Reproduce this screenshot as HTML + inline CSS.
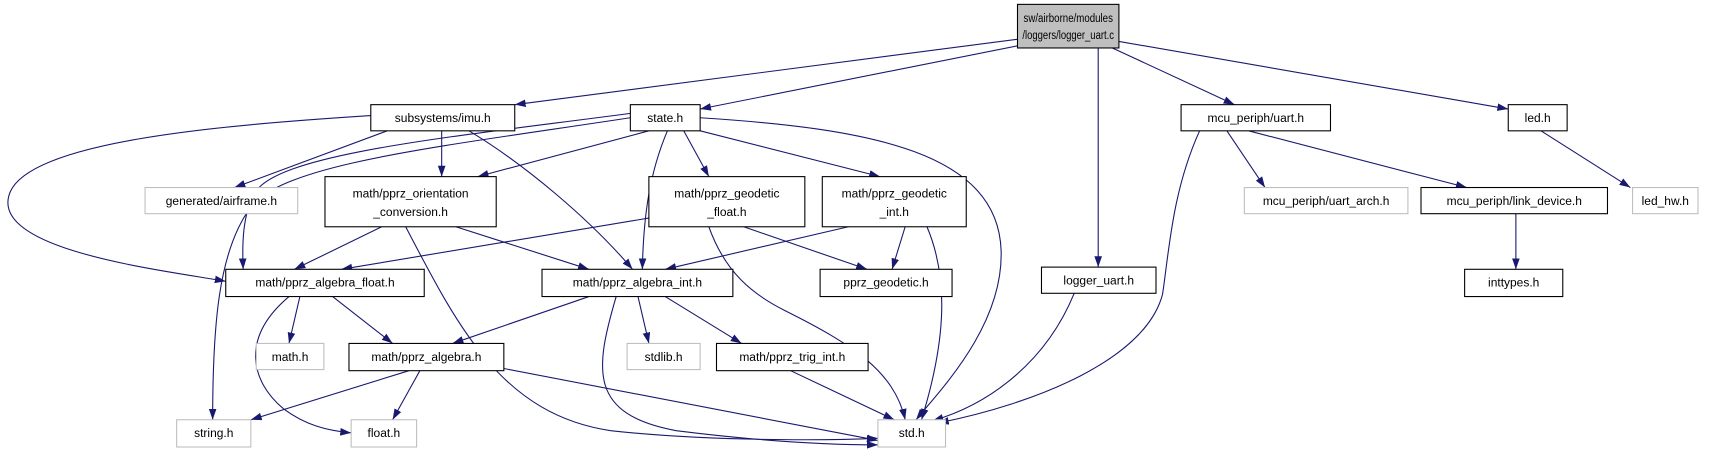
<!DOCTYPE html>
<html><head><meta charset="utf-8"><style>
html,body{margin:0;padding:0;background:#fff;}
svg{display:block}
text{font-family:"Liberation Sans",sans-serif;font-size:11px;fill:#000;text-anchor:middle}
.b{fill:#fff;stroke:#000;stroke-width:1}
.g{fill:#fff;stroke:#bfbfbf;stroke-width:1}
.e{fill:none;stroke:#191970;stroke-width:1}
</style></head><body>
<svg width="1710" height="459" viewBox="0 0 1568 421" preserveAspectRatio="none" xmlns="http://www.w3.org/2000/svg">
<defs><marker id="a" markerUnits="userSpaceOnUse" markerWidth="11" markerHeight="8" refX="10" refY="3.5" orient="auto"><path d="M0,0 L10,3.5 L0,7 z" fill="#191970"/></marker></defs>
<g marker-end="url(#a)">
<path class="e" d="M933,36 L472,96"/>
<path class="e" d="M933,42 L642,100"/>
<path class="e" d="M1007,44 L1007,245"/>
<path class="e" d="M1020,44 L1132,96"/>
<path class="e" d="M1026,38 L1383,100"/>
<path class="e" d="M340,106 C200,115 20,130 8,180 C-5,230 150,248 207,258"/>
<path class="e" d="M355,120 L215,172"/>
<path class="e" d="M405,120 L405,162"/>
<path class="e" d="M430,120 C480,150 540,200 580,247"/>
<path class="e" d="M578,104 C420,125 260,140 235,175 C222,195 222,225 223,247"/>
<path class="e" d="M578,108 C400,135 260,150 230,190 C200,230 195,300 195,385"/>
<path class="e" d="M595,120 L438,162"/>
<path class="e" d="M612,120 C595,160 590,200 589,247"/>
<path class="e" d="M627,120 L650,162"/>
<path class="e" d="M642,120 L807,162"/>
<path class="e" d="M642,108 C800,118 915,140 918,230 C920,300 860,360 840,385"/>
<path class="e" d="M350,208 L270,247"/>
<path class="e" d="M372,208 C420,300 460,380 560,395 C650,405 760,404 805,402"/>
<path class="e" d="M418,208 L540,247"/>
<path class="e" d="M595,200 L313,247"/>
<path class="e" d="M682,208 L795,247"/>
<path class="e" d="M650,208 C665,250 690,270 720,285 C780,315 820,340 830,385"/>
<path class="e" d="M778,208 L610,247"/>
<path class="e" d="M830,208 L818,247"/>
<path class="e" d="M850,208 C872,260 865,320 845,385"/>
<path class="e" d="M265,272 C220,310 230,350 260,375 C280,390 300,395 322,397"/>
<path class="e" d="M275,272 L265,315"/>
<path class="e" d="M305,272 L360,315"/>
<path class="e" d="M540,272 L415,315"/>
<path class="e" d="M565,272 C545,340 540,380 620,395 C700,405 760,408 805,408"/>
<path class="e" d="M585,272 L595,315"/>
<path class="e" d="M610,272 L680,315"/>
<path class="e" d="M375,340 L230,385"/>
<path class="e" d="M385,340 L360,385"/>
<path class="e" d="M462,338 L805,404"/>
<path class="e" d="M725,340 L820,385"/>
<path class="e" d="M985,269 C960,330 910,370 855,386"/>
<path class="e" d="M1100,120 C1075,175 1072,230 1066,270 C1050,330 950,370 860,388"/>
<path class="e" d="M1125,120 L1160,172"/>
<path class="e" d="M1145,120 L1345,172"/>
<path class="e" d="M1413,120 L1495,172"/>
<path class="e" d="M1390,196 L1390,247"/>
</g>
<rect x="933" y="4" width="93" height="40" fill="#bfbfbf" stroke="#000"/>
<text x="979.5" y="20" textLength="82" lengthAdjust="spacingAndGlyphs">sw/airborne/modules</text><text x="979.5" y="36" textLength="84" lengthAdjust="spacingAndGlyphs">/loggers/logger_uart.c</text>
<rect class="b" x="340" y="96" width="132" height="24"/><text x="406" y="112">subsystems/imu.h</text>
<rect class="b" x="578" y="96" width="64" height="24"/><text x="610" y="112">state.h</text>
<rect class="b" x="1083" y="96" width="137" height="24"/><text x="1151.5" y="112">mcu_periph/uart.h</text>
<rect class="b" x="1383" y="96" width="54" height="24"/><text x="1410" y="112">led.h</text>
<rect class="g" x="133" y="172" width="140" height="24"/><text x="203" y="188">generated/airframe.h</text>
<rect class="b" x="298" y="162" width="157" height="46"/><text x="376.5" y="181">math/pprz_orientation</text><text x="376.5" y="198">_conversion.h</text>
<rect class="b" x="595" y="162" width="143" height="46"/><text x="666.5" y="181">math/pprz_geodetic</text><text x="666.5" y="198">_float.h</text>
<rect class="b" x="754" y="162" width="132" height="46"/><text x="820" y="181">math/pprz_geodetic</text><text x="820" y="198">_int.h</text>
<rect class="b" x="955" y="245" width="105" height="24"/><text x="1007.5" y="261">logger_uart.h</text>
<rect class="g" x="1141" y="172" width="150" height="24"/><text x="1216" y="188">mcu_periph/uart_arch.h</text>
<rect class="b" x="1303" y="172" width="171" height="24"/><text x="1388.5" y="188">mcu_periph/link_device.h</text>
<rect class="g" x="1497" y="172" width="60" height="24"/><text x="1527" y="188">led_hw.h</text>
<rect class="b" x="207" y="247" width="182" height="25"/><text x="298" y="263">math/pprz_algebra_float.h</text>
<rect class="b" x="497" y="247" width="175" height="25"/><text x="584.5" y="263">math/pprz_algebra_int.h</text>
<rect class="b" x="752" y="247" width="121" height="25"/><text x="812.5" y="263">pprz_geodetic.h</text>
<rect class="b" x="1343" y="247" width="90" height="25"/><text x="1388" y="263">inttypes.h</text>
<rect class="g" x="235" y="315" width="62" height="24"/><text x="266" y="331">math.h</text>
<rect class="b" x="320" y="315" width="142" height="25"/><text x="391" y="331">math/pprz_algebra.h</text>
<rect class="g" x="575" y="315" width="67" height="24"/><text x="608.5" y="331">stdlib.h</text>
<rect class="b" x="657" y="315" width="139" height="25"/><text x="726.5" y="331">math/pprz_trig_int.h</text>
<rect class="g" x="162" y="385" width="68" height="25"/><text x="196" y="401">string.h</text>
<rect class="g" x="322" y="385" width="60" height="25"/><text x="352" y="401">float.h</text>
<rect class="g" x="805" y="385" width="62" height="25"/><text x="836" y="401">std.h</text>
</svg>
</body></html>
